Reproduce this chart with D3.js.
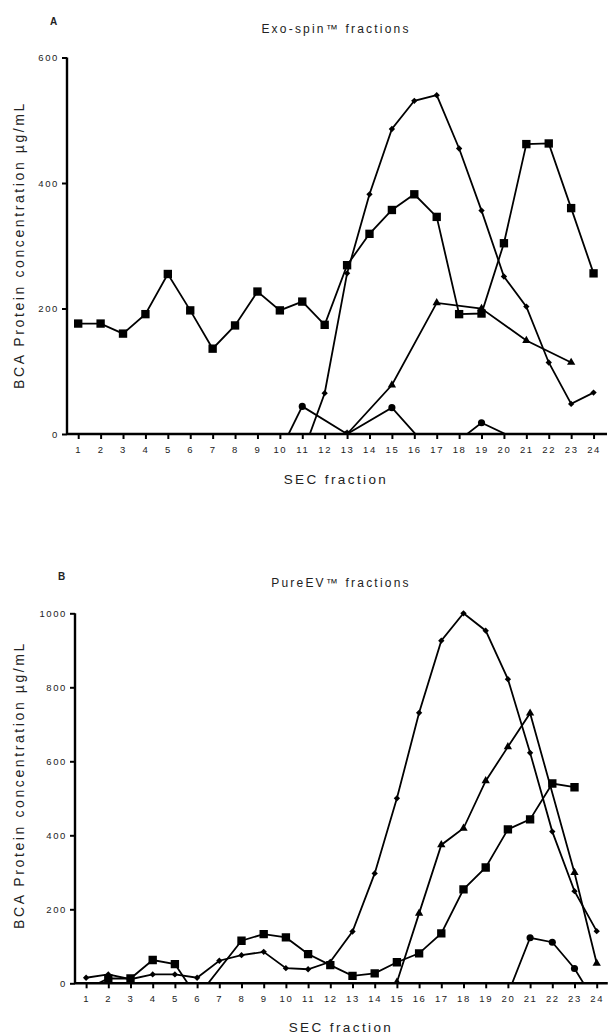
<!DOCTYPE html>
<html>
<head>
<meta charset="utf-8">
<script src="https://cdn.jsdelivr.net/npm/d3@7"></script>
<style>
    body { margin: 0; background: #fff; }
    text { font-family: Arial, "Liberation Sans", sans-serif; fill: #222; }
</style>
</head>
<body>
<div id="chart"></div>
<script>
// tick labels shared by both panels
var fractionTicks = [1, 2, 3, 4, 5, 6, 7, 8, 9, 10, 11, 12, 13, 14, 15, 16, 17, 18, 19, 20, 21, 22, 23, 24];

// panel A : Exo-spin
var exoYTicks = [0, 200, 400, 600];
var exoSquareX = [1, 2, 3, 4, 5, 6, 7, 8, 9, 10, 11, 12, 13, 14, 15, 16, 17, 18, 19, 20, 21, 22, 23, 24];
var exoSquareY = [176, 176, 160, 191, 255, 197, 136, 173, 227, 197, 211, 174, 269, 319, 357, 382, 346, 191, 192, 304, 462, 463, 360, 256];
var exoDiamondX = [11, 12, 13, 14, 15, 16, 17, 18, 19, 20, 21, 22, 23, 24];
var exoDiamondY = [-33, 65, 256, 382, 486, 531, 540, 455, 356, 251, 203, 114, 48, 66];
var exoTriangleX = [13, 15, 17, 19, 21, 23];
var exoTriangleY = [0, 78, 209, 200, 149, 114];
var exoCircleX = [9, 11, 13, 15, 17, 19, 21];
var exoCircleY = [-100, 44, 0, 42, -38, 18, -16];

// panel B : PureEV
var pureYTicks = [0, 200, 400, 600, 800, 1000];
var pureDiamondX = [1, 2, 3, 4, 5, 6, 7, 8, 9, 10, 11, 12, 13, 14, 15, 16, 17, 18, 19, 20, 21, 22, 23, 24];
var pureDiamondY = [15, 24, 11, 24, 24, 15, 61, 76, 85, 41, 38, 58, 140, 297, 500, 731, 926, 1000, 953, 822, 623, 410, 249, 141];
var pureSquareX = [1, 2, 3, 4, 5, 6, 8, 9, 10, 11, 12, 13, 14, 15, 16, 17, 18, 19, 20, 21, 22, 23];
var pureSquareY = [-16, 13, 13, 63, 52, -38, 115, 133, 124, 79, 49, 20, 27, 57, 81, 135, 254, 313, 416, 443, 540, 530];
var pureTriangleX = [15, 16, 17, 18, 19, 20, 21, 23, 24];
var pureTriangleY = [3, 189, 374, 419, 547, 639, 730, 299, 54];
var pureCircleX = [20, 21, 22, 23, 24];
var pureCircleY = [-29, 123, 111, 40, -58];

var width = 608, height = 1036;

var svg = d3.select("#chart")
    .append("svg")
    .attr("width", width)
    .attr("height", height);

var zip = function(xs, ys) {
    return xs.map(function(x, i) { return {x: x, y: ys[i]}; });
};

var drawPanel = function(p) {
    var x = d3.scaleLinear().domain(p.xDomain).range(p.xRange);
    var y = d3.scaleLinear().domain(p.yDomain).range(p.yRange);

    var g = svg.append("g");

    // clip everything under the zero line, like the original
    g.append("clipPath")
	.attr("id", p.id + "_clip")
	.append("rect")
	.attr("x", p.xRange[0])
	.attr("y", 0)
	.attr("width", p.xRange[1] - p.xRange[0])
	.attr("height", y(0));

    var plot = g.append("g")
	.attr("clip-path", "url(#" + p.id + "_clip)");

    var line = d3.line()
	.x(function(d) { return x(d.x); })
	.y(function(d) { return y(d.y); });

    p.series.forEach(function(s) {
	var pts = zip(s.xs, s.ys);
	plot.append("path")
	    .datum(pts)
	    .attr("d", line)
	    .attr("fill", "none")
	    .attr("stroke", "#000")
	    .attr("stroke-width", 1.8)
	    .attr("stroke-linejoin", "miter");
	plot.selectAll(null)
	    .data(pts.filter(function(d) { return d.y >= 0; }))
	    .enter()
	    .append("path")
	    .attr("transform", function(d) {
		return "translate(" + x(d.x) + "," + y(d.y) + ")" + (s.rotate ? " rotate(45)" : "");
	    })
	    .attr("d", d3.symbol().type(s.symbol).size(s.size))
	    .attr("fill", "#000");
    });

    // axes
    var xAxis = g.append("g")
	.attr("transform", "translate(0," + y(0) + ")")
	.call(d3.axisBottom(x).tickValues(fractionTicks).tickSize(5).tickPadding(7).tickFormat(d3.format("d")));
    var yAxis = g.append("g")
	.attr("transform", "translate(" + p.xRange[0] + ",0)")
	.call(d3.axisLeft(y).tickValues(p.yTicks).tickSize(5).tickPadding(3).tickFormat(d3.format("d")));

    [xAxis, yAxis].forEach(function(a) {
	a.select(".domain").attr("stroke-width", 2.4).attr("d",
	    a === xAxis ? "M" + p.xRange[0] + ",0H" + p.xRange[1]
			: "M0," + p.yRange[1] + "V" + p.yRange[0]);
	a.selectAll(".tick line").attr("stroke-width", 2);
	a.selectAll(".tick text")
	    .style("font-size", "9.5px")
	    .style("letter-spacing", "1.6px")
	    .attr("fill", "#222");
    });

    g.append("text")
	.attr("x", p.labelX)
	.attr("y", p.labelY)
	.style("font-size", "10px")
	.style("font-weight", "bold")
	.text(p.label);

    g.append("text")
	.attr("x", p.titleX)
	.attr("y", p.titleY)
	.attr("text-anchor", "middle")
	.style("font-size", "12px")
	.style("letter-spacing", "2.2px")
	.text(p.title);

    g.append("text")
	.attr("x", p.titleX)
	.attr("y", p.xTitleY)
	.attr("text-anchor", "middle")
	.style("font-size", "13.5px")
	.style("letter-spacing", "2.4px")
	.text("SEC fraction");

    g.append("text")
	.attr("transform", "translate(24," + p.yTitleY + ") rotate(-90)")
	.attr("text-anchor", "middle")
	.style("font-size", "14px")
	.style("letter-spacing", "2.6px")
	.text("BCA Protein concentration \u00b5g/mL");
};

drawPanel({
    id: "exo",
    label: "A",
    labelX: 50, labelY: 25,
    title: "Exo-spin\u2122 fractions",
    titleX: 336, titleY: 33,
    xTitleY: 484,
    yTitleY: 245,
    xDomain: [0.5, 24.6], xRange: [67, 607],
    yDomain: [0, 600], yRange: [434, 57.5],
    yTicks: exoYTicks,
    series: [
	{xs: exoSquareX, ys: exoSquareY, symbol: d3.symbolSquare, size: 70},
	{xs: exoDiamondX, ys: exoDiamondY, symbol: d3.symbolSquare, size: 20, rotate: true},
	{xs: exoTriangleX, ys: exoTriangleY, symbol: d3.symbolTriangle, size: 30},
	{xs: exoCircleX, ys: exoCircleY, symbol: d3.symbolCircle, size: 40}
    ]
});

drawPanel({
    id: "pure",
    label: "B",
    labelX: 58, labelY: 580,
    title: "PureEV\u2122 fractions",
    titleX: 341, titleY: 587,
    xTitleY: 1032,
    yTitleY: 785,
    xDomain: [0.5, 24.5], xRange: [75, 607.8],
    yDomain: [0, 1000], yRange: [983.3, 613.3],
    yTicks: pureYTicks,
    series: [
	{xs: pureDiamondX, ys: pureDiamondY, symbol: d3.symbolSquare, size: 20, rotate: true},
	{xs: pureSquareX, ys: pureSquareY, symbol: d3.symbolSquare, size: 70},
	{xs: pureTriangleX, ys: pureTriangleY, symbol: d3.symbolTriangle, size: 30},
	{xs: pureCircleX, ys: pureCircleY, symbol: d3.symbolCircle, size: 40}
    ]
});
</script>
</body>
</html>
